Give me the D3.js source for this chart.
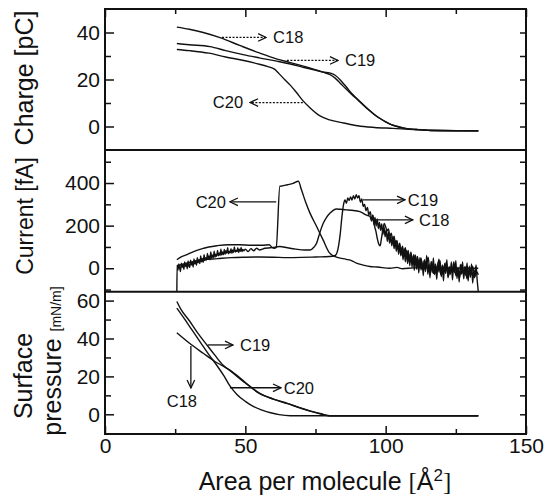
<!DOCTYPE html>
<meta charset="utf-8">
<style>
    body { margin: 0; background: #fff; }
    svg { font-family: "Liberation Sans", Arial, sans-serif; }
    .curve { fill: none; stroke: #111; stroke-width: 1.4px; stroke-linejoin: round; }
    .frame { fill: none; stroke: #111; stroke-width: 2px; }
    .tick line { stroke: #111; stroke-width: 1.5px; }
    .tick text { font-size: 21px; fill: #111; }
    .note { font-size: 16.5px; fill: #111; }
    .arrow { stroke: #111; stroke-width: 1.3px; fill: none; }
    .dotted { stroke-dasharray: 2 1.5; }
    .title { font-size: 25px; fill: #111; }
</style>
<svg width="546" height="501"></svg>
<script src="https://d3js.org/d3.v7.min.js"></script>
<script>

    // ---- data: [area (A^2), value] ----
    var areaTicks = [0, 50, 100, 150];
    var areaMinor = [25, 75, 125];

    var chargeTicks = [0, 20, 40];
    var chargeMinor = [-10, 10, 30, 50];
    var chargeC18 = [[25.6,42.3],[30,41.4],[35,40],[41,37.8],[48,34.5],[55,31.3],[61,28.8],[66,27.2],[70,25.9],[74,24.5],[78,23],[80,22.2],[82,20.6],[84,18.2],[86,15.8],[88,13.5],[90,11.4],[92,9.2],[94,7],[96,5],[98,3.4],[100,2],[102,0.8],[104,0],[107,-0.8],[111,-1.3],[116,-1.7],[125,-1.8],[133,-1.8]];
    var chargeC19 = [[25.6,35.3],[30,34.8],[37.4,34],[43,32.3],[49.2,30.6],[55,29.2],[61.2,27.8],[66,26.6],[70,25.4],[74,24.2],[78,23.1],[80,22.8],[82,21.8],[84,19.6],[86,16.8],[88,13.9],[90,11.6],[92,9.3],[94,7.1],[96,5.1],[98,3.4],[100,2],[102,0.8],[104,0.1],[107,-0.8],[111,-1.3],[116,-1.7],[125,-1.8],[133,-1.8]];
    var chargeC20 = [[25.6,32.8],[30,32.3],[37,31.2],[43,29.6],[49,28.2],[55,26.5],[58,25.5],[60.5,24.3],[62,22.5],[64,20],[66,17.6],[68,14.8],[70.5,11],[73,8],[76.6,4.5],[80,2.8],[85,1.5],[90,0.3],[96,-0.4],[102.6,-0.8],[110,-1.3],[120,-1.7],[133,-1.8]];

    var currentTicks = [0, 200, 400];
    var currentMinor = [-100, 100, 300, 500];
    var currentC18 = [[25.6,-110],[25.7,15],[26.0,-8],[26.3,20],[26.6,2],[26.9,-15],[27.2,24],[27.5,5],[27.8,18],[28.1,-6],[28.4,30],[28.7,8],[29.0,22],[29.3,-2],[29.6,34],[29.9,12],[30.2,4],[30.5,38],[30.8,15],[31.1,28],[31.4,6],[31.7,44],[32.0,20],[32.3,36],[32.6,14],[32.9,50],[33.2,26],[33.5,40],[33.8,22],[34.1,58],[34.4,30],[34.7,46],[35.0,28],[35.3,64],[35.6,36],[35.9,50],[36.2,38],[36.5,70],[36.8,44],[37.1,58],[37.4,40],[37.7,76],[38.0,48],[38.3,62],[38.6,50],[38.9,80],[39.2,52],[39.5,66],[39.8,56],[40.1,84],[40.4,58],[40.7,72],[41.0,60],[41.3,90],[41.6,62],[41.9,76],[42.2,64],[42.5,88],[42.8,66],[43.1,82],[43.4,70],[43.7,96],[44.0,68],[44.3,80],[44.6,72],[44.9,92],[45.2,70],[45.5,86],[45.8,74],[46.1,100],[46.4,76],[46.7,84],[47.0,78],[47.3,96],[47.6,74],[47.9,90],[48.2,80],[48.5,98],[48.8,78],[49.1,88],[49.5,82],[50,90],[51,78],[52,92],[53,82],[54,94],[55,86],[57,94],[59,96],[61,100],[62.3,102],[65,96],[68,90],[71,86],[73,86],[74.5,100],[75.4,118],[76.5,165],[77.8,212],[79,240],[80.2,259],[82.5,278],[86,274],[88,272],[90.8,266],[92,258],[93,250],[94.4,243],[95,222],[95.4,250],[95.8,205],[96.2,238],[96.6,198],[97,232],[97.4,186],[97.8,215],[98.2,178],[98.6,208],[99,158],[99.4,196],[99.8,148],[100.2,180],[100.6,126],[101,170],[101.4,118],[101.8,150],[102.2,105],[102.6,148],[103,92],[103.4,130],[103.8,80],[104.2,122],[104.6,66],[105,110],[105.4,58],[105.8,96],[106.2,40],[106.6,92],[107,30],[107.4,84],[107.8,22],[108.2,70],[108.6,12],[109,76],[109.4,5],[109.8,58],[110.2,-10],[110.6,62],[111,-4],[111.4,44],[111.8,-22],[112.2,50],[112.6,-8],[113,30],[113.4,-35],[113.8,40],[114.2,-15],[114.6,60],[115,-28],[115.4,20],[115.8,-45],[116.2,32],[116.6,-20],[117,48],[117.4,-30],[117.8,10],[118.2,-52],[118.6,26],[119,-18],[119.4,35],[119.8,-40],[120.2,15],[120.6,-60],[121,22],[121.4,-25],[121.8,40],[122.2,-45],[122.6,8],[123,-30],[123.4,30],[123.8,-55],[124.2,12],[124.6,-20],[125,36],[125.4,-48],[125.8,5],[126.2,-65],[126.6,18],[127,-28],[127.4,30],[127.8,-50],[128.2,0],[128.6,-35],[129,25],[129.4,-60],[129.8,10],[130.2,-42],[130.6,20],[131,-70],[131.4,-5],[131.8,-38],[132.2,15],[132.6,-55],[133,-110]];
    var currentC19 = [[25.6,10],[28,20],[31,30],[35,40],[40,45],[45,50],[50,52],[55,53],[60,52],[65,50],[70,51],[75,53],[80,55],[82,60],[83,90],[83.8,160],[84.4,240],[85,300],[85.5,320],[86,305],[86.5,330],[87,318],[87.5,335],[88,320],[88.5,340],[89,325],[89.5,345],[90,330],[90.5,340],[91,310],[91.5,325],[92,290],[92.5,300],[93,270],[93.5,285],[94,250],[94.5,265],[95,230],[95.5,245],[96,200],[96.5,175],[97,140],[97.5,115],[98,105],[98.5,140],[99,180],[99.5,210],[100,195],[100.5,175],[101,185],[101.5,150],[102,165],[102.5,130],[103,150],[103.5,110],[104,130],[104.5,88],[105,118],[105.5,75],[106,104],[106.5,62],[107,96],[107.5,50],[108,84],[108.5,40],[109,72],[109.5,28],[110,64],[110.7,20],[111.3,55],[112,8],[112.6,48],[113.2,-5],[113.8,38],[114.5,10],[115.1,52],[115.8,-12],[116.4,30],[117,-25],[117.7,20],[118.3,-8],[119,42],[119.6,-30],[120.3,12],[121,-15],[121.6,28],[122.3,-40],[123,5],[123.6,-20],[124.3,30],[125,-35],[125.6,-2],[126.3,-45],[127,15],[127.6,-25],[128.3,8],[129,-50],[129.6,-10],[130.3,-30],[131,10],[131.6,-45],[132.3,-15],[133,-30]];
    var currentC20 = [[25.6,40],[27,52],[29,63],[31,75],[33,85],[35,93],[37,100],[40,106],[44,110],[48,110],[52,108],[56,108],[58.5,110],[59.5,98],[60.3,94],[61,98],[62.3,385],[63,386],[65,392],[67,398],[68.9,408],[70,368],[71.5,310],[73,260],[75.4,196],[77.7,133],[80,72],[82.5,52],[86,42],[88,35],[89.6,24],[92,15],[94.4,8],[97,6],[101.5,0],[104,4],[106,-2],[110,2],[133,0]];

    var pressureTicks = [0, 20, 40, 60];
    var pressureMinor = [10, 30, 50];
    var pressureC18 = [[25.6,43],[30,37.6],[35,32.2],[39,28],[42,25.5],[45,22.8],[50,16.8],[55,11.2],[60,8],[65,5.6],[70,3.1],[73,1.7],[76.6,0.3],[80,-0.8],[133,-0.8]];
    var pressureC19 = [[25.6,59.5],[27,55.5],[30,49.5],[33,43],[36,37.2],[39,31.5],[42,26],[45,22.5],[50,16.5],[55,11],[60,8],[65,5.8],[70,3.2],[73,1.8],[76.6,0.4],[80,-0.8],[133,-0.8]];
    var pressureC20 = [[25.6,56],[28,51],[31,44.5],[34,38],[37,31.5],[40,25.5],[42.5,20],[44.5,15],[47,10.5],[50,6.8],[53,4],[56,2.2],[59,0.8],[62,-0.2],[66,-0.8],[133,-0.8]];

    // labels with arrows: from / to in (area, value)
    var chargeNotes = [
        {name: "C18", from: [41.7, 37.9], to: [57.4, 37.9], text: [59.9, 37.9], anchor: "start"},
        {name: "C19", from: [64.8, 28.1], to: [83, 28.1], text: [85.5, 28.1], anchor: "start"},
        {name: "C20", from: [70.5, 10.2], to: [51.7, 10.2], text: [49.2, 10.2], anchor: "end"}
    ];
    var currentNotes = [
        {name: "C20", from: [61, 312], to: [44.5, 312], text: [43.1, 312], anchor: "end"},
        {name: "C19", from: [91.9, 321], to: [106.9, 321], text: [107.9, 321], anchor: "start"},
        {name: "C18", from: [96.2, 227], to: [109.7, 227], text: [111.9, 227], anchor: "start"}
    ];
    var pressureNotes = [
        {name: "C18", from: [30.6, 36], to: [30.6, 13.9], text: [27.4, 7], anchor: "middle"},
        {name: "C19", from: [36.7, 36.6], to: [45.6, 36.6], text: [48.1, 36.6], anchor: "start"},
        {name: "C20", from: [44.5, 14], to: [62.7, 14], text: [63.7, 14], anchor: "start"}
    ];

    var svg = d3.select("svg");
    var plotLeft = 105, plotRight = 526, plotTop = 9, plotBottom = 434;
    var x = d3.scaleLinear().domain([0, 150]).range([plotLeft, plotRight]);

    svg.append("defs").append("marker")
        .attr("id", "head")
        .attr("markerUnits", "userSpaceOnUse")
        .attr("viewBox", "-1 -5 10 10")
        .attr("refX", 8).attr("refY", 0)
        .attr("markerWidth", 10).attr("markerHeight", 10)
        .attr("orient", "auto")
        .append("path")
        .attr("d", "M0,-3.8L8,0L0,3.8")
        .attr("fill", "none").attr("stroke", "#111").attr("stroke-width", 1.3);

    var panels = [
        {y: d3.scaleLinear().domain([-10, 50]).range([150, plotTop]), major: chargeTicks, minor: chargeMinor,
            series: [chargeC18, chargeC19, chargeC20], notes: chargeNotes, dotted: true},
        {y: d3.scaleLinear().domain([-110, 555]).range([291.7, 150]), major: currentTicks, minor: currentMinor,
            series: [currentC18, currentC19, currentC20], notes: currentNotes, dotted: false},
        {y: d3.scaleLinear().domain([-10.4, 64.7]).range([plotBottom, 291.7]), major: pressureTicks, minor: pressureMinor,
            series: [pressureC18, pressureC19, pressureC20], notes: pressureNotes, dotted: false}
    ];

    function inside(y) {
        return function (v) { return v > y.domain()[0] && v < y.domain()[1]; };
    }

    panels.forEach(function (p) {
        var y = p.y;
        var g = svg.append("g");

        // left ticks (inward), labels outside
        g.append("g").attr("transform", "translate(" + plotLeft + ",0)")
            .call(d3.axisLeft(y).tickValues(p.major).tickSize(-9).tickPadding(5).tickFormat(d3.format("d")))
            .call(function (a) { a.select(".domain").remove(); a.selectAll("text").attr("font-family", null); });
        g.append("g").attr("transform", "translate(" + plotLeft + ",0)")
            .call(d3.axisLeft(y).tickValues(p.minor.filter(inside(y))).tickSize(-6).tickFormat(""))
            .call(function (a) { a.select(".domain").remove(); });
        // right ticks
        g.append("g").attr("transform", "translate(" + plotRight + ",0)")
            .call(d3.axisRight(y).tickValues(p.major.concat(p.minor).filter(inside(y))).tickSize(-6).tickFormat(""))
            .call(function (a) { a.select(".domain").remove(); });

        var line = d3.line()
            .x(function (d) { return x(d[0]); })
            .y(function (d) { return y(d[1]); })
            .curve(d3.curveMonotoneX);

        g.selectAll(".curve").data(p.series).enter().append("path")
            .attr("class", "curve")
            .attr("d", line);

        var notes = g.selectAll(".n").data(p.notes).enter().append("g");
        notes.append("line")
            .attr("class", p.dotted ? "arrow dotted" : "arrow")
            .attr("x1", function (d) { return x(d.from[0]); })
            .attr("y1", function (d) { return y(d.from[1]); })
            .attr("x2", function (d) { return x(d.to[0]); })
            .attr("y2", function (d) { return y(d.to[1]); })
            .attr("marker-end", "url(#head)");
        notes.append("text")
            .attr("class", "note")
            .attr("x", function (d) { return x(d.text[0]); })
            .attr("y", function (d) { return y(d.text[1]); })
            .attr("dy", "0.36em")
            .attr("text-anchor", function (d) { return d.anchor; })
            .text(function (d) { return d.name; });
    });

    // x ticks: top of first panel and bottom of last
    svg.append("g").attr("transform", "translate(0," + plotTop + ")")
        .call(d3.axisTop(x).tickValues(areaTicks).tickSize(-8).tickFormat(""))
        .call(function (a) { a.select(".domain").remove(); });
    svg.append("g").attr("transform", "translate(0," + plotTop + ")")
        .call(d3.axisTop(x).tickValues(areaMinor).tickSize(-5).tickFormat(""))
        .call(function (a) { a.select(".domain").remove(); });
    svg.append("g").attr("transform", "translate(0," + plotBottom + ")")
        .call(d3.axisBottom(x).tickValues(areaTicks).tickSize(-8).tickPadding(4))
        .call(function (a) { a.select(".domain").remove(); a.selectAll("text").attr("font-family", null); });
    svg.append("g").attr("transform", "translate(0," + plotBottom + ")")
        .call(d3.axisBottom(x).tickValues(areaMinor).tickSize(-5).tickFormat(""))
        .call(function (a) { a.select(".domain").remove(); });

    // frame and panel separators
    svg.append("rect").attr("class", "frame")
        .attr("x", plotLeft).attr("y", plotTop)
        .attr("width", plotRight - plotLeft).attr("height", plotBottom - plotTop);
    [150, 291.7].forEach(function (yy) {
        svg.append("line").attr("class", "frame")
            .attr("x1", plotLeft).attr("x2", plotRight).attr("y1", yy).attr("y2", yy);
    });

    // axis titles
    svg.append("text").attr("class", "title")
        .attr("transform", "translate(33,78) rotate(-90)")
        .attr("text-anchor", "middle").text("Charge [pC]");
    svg.append("text").attr("class", "title")
        .attr("transform", "translate(33,216) rotate(-90)")
        .style("font-size", "23px")
        .attr("text-anchor", "middle").text("Current [fA]");
    svg.append("text").attr("class", "title")
        .attr("transform", "translate(32,376) rotate(-90)")
        .attr("text-anchor", "middle").text("Surface");
    var pr = svg.append("text").attr("class", "title")
        .attr("transform", "translate(61,361) rotate(-90)")
        .attr("text-anchor", "middle");
    pr.append("tspan").text("pressure ");
    pr.append("tspan").style("font-size", "14px").text("[mN/m]");

    var xt = svg.append("text").attr("class", "title")
        .attr("x", 325).attr("y", 490).attr("text-anchor", "middle");
    xt.append("tspan").text("Area per molecule ");
    xt.append("tspan").attr("font-family", "Liberation Serif, serif").text("[");
    xt.append("tspan").text("Å");
    xt.append("tspan").attr("dy", -9).style("font-size", "17px").text("2");
    xt.append("tspan").attr("dy", 9).attr("font-family", "Liberation Serif, serif").text("]");

</script>
